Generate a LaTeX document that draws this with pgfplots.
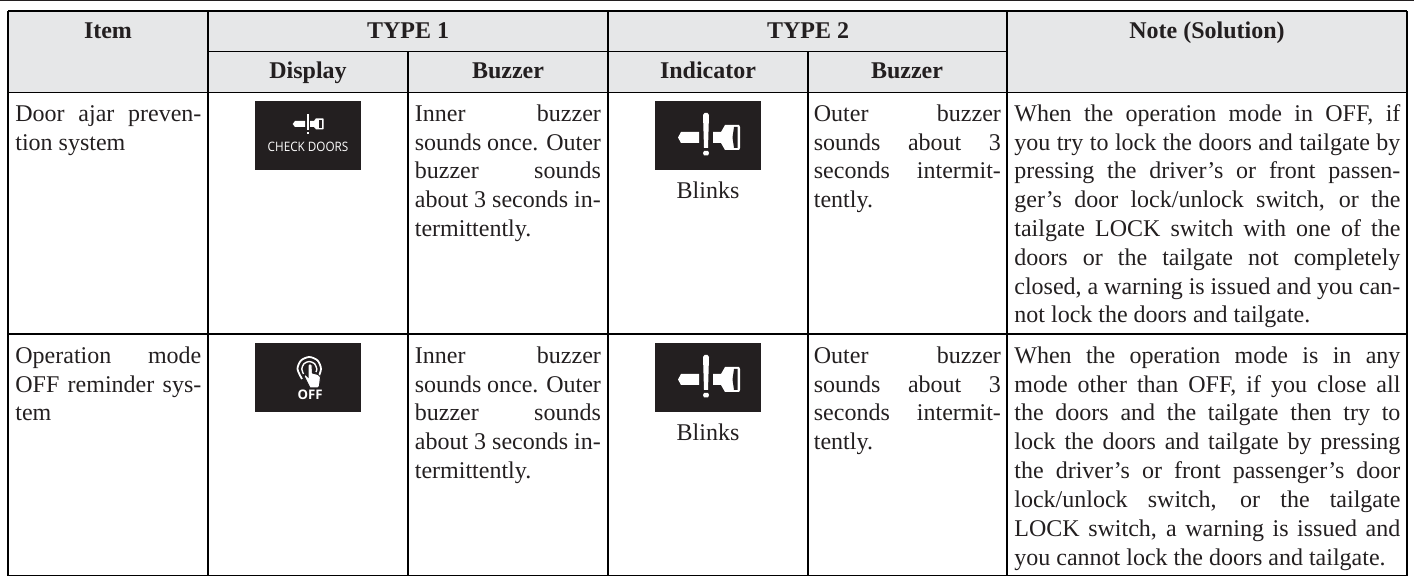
\documentclass[border=0pt]{standalone}
\usepackage{pgfplots}
\pgfplotsset{compat=1.18}
\usepackage{fontspec}
\setmainfont{Liberation Serif}
\newfontfamily\iconfont{Open Sans}
\definecolor{hdr}{HTML}{E6E7E8}
\definecolor{grid}{HTML}{474747}
\definecolor{ink}{HTML}{231F20}
% one px = 0.5pt
\newcommand{\J}[4]{\node[anchor=base west,inner sep=0pt,yshift=-0.75pt,text=ink,font=\fontsize{12pt}{14pt}\selectfont] at (axis cs:#1,#2) {\makebox[#3pt][s]{#4}};}
\newcommand{\Ln}[3]{\node[anchor=base west,inner sep=0pt,yshift=-0.75pt,text=ink,font=\fontsize{12pt}{14pt}\selectfont] at (axis cs:#1,#2) {#3};}
\newcommand{\C}[3]{\node[anchor=base,inner sep=0pt,yshift=-0.75pt,text=ink,font=\fontsize{12pt}{14pt}\selectfont] at (axis cs:#1,#2) {#3};}
\newcommand{\B}[3]{\node[anchor=base,inner sep=0pt,yshift=-0.5pt,text=ink,font=\fontsize{12pt}{14pt}\selectfont\bfseries] at (axis cs:#1,#2) {#3};}
\begin{document}
\begin{tikzpicture}
\path[use as bounding box] (0,0) rectangle (707pt,288pt);
\begin{axis}[at={(0,0)},anchor=south west,scale only axis,width=707pt,height=288pt,
  xmin=0,xmax=1414,ymin=0,ymax=576,y dir=reverse,hide axis,clip=true]
% header fill
\addplot[fill=hdr,draw=none] coordinates {(8,11) (1407,11) (1407,92) (8,92)} -- cycle;
% top rule
\addplot[ink,line width=1pt] coordinates {(0,0.5) (1414,0.5)};
% grid
\addplot[grid,line width=0.9pt] coordinates {(8,11) (1407,11)};
\addplot[grid,line width=0.8pt] coordinates {(208,51.5) (1007,51.5)};
\addplot[grid,line width=0.8pt] coordinates {(8,92.5) (1407,92.5)};
\addplot[grid,line width=1pt] coordinates {(8,334.5) (1407,334.5)};
\addplot[grid,line width=0.8pt] coordinates {(8,575.5) (1407,575.5)};
\addplot[grid,line width=0.7pt] coordinates {(8,11) (8,576)};
\addplot[grid,line width=0.7pt] coordinates {(208,11) (208,576)};
\addplot[grid,line width=0.7pt] coordinates {(408,52) (408,576)};
\addplot[grid,line width=0.7pt] coordinates {(608,11) (608,576)};
\addplot[grid,line width=0.7pt] coordinates {(808,52) (808,576)};
\addplot[grid,line width=0.7pt] coordinates {(1007,11) (1007,576)};
\addplot[grid,line width=0.9pt] coordinates {(1407,11) (1407,576)};
% icon boxes
\addplot[fill=ink,draw=none] coordinates {(255,101) (361,101) (361,170) (255,170)} -- cycle;
\addplot[fill=ink,draw=none] coordinates {(655,101) (761,101) (761,170) (655,170)} -- cycle;
\addplot[fill=ink,draw=none] coordinates {(255,343) (361,343) (361,412) (255,412)} -- cycle;
\addplot[fill=ink,draw=none] coordinates {(655,343) (761,343) (761,412) (655,412)} -- cycle;
% large door icon, row 1
\addplot[fill=white,draw=none] coordinates {(678,137.5) (681,132) (699,132) (699,143) (681,143)} -- cycle;
\addplot[fill=white,draw=none] coordinates {(703,115) (704.5,113) (707.5,113) (709,115) (708,148) (704,148)} -- cycle;
\addplot[fill=white,draw=none] coordinates {(704,151) (708,151) (709,153) (708,155.5) (704,155.5) (703,153)} -- cycle;
\addplot[fill=white,draw=none] coordinates {(713,132) (721,132) (725,125) (739,125) (740,127) (740,148) (739,150) (725,150) (721,143) (713,143)} -- cycle;
\addplot[fill=ink,draw=none] coordinates {(734,127) (737.7,127) (737.7,148) (734,148) (732.5,137.5)} -- cycle;
% large door icon, row 2
\addplot[fill=white,draw=none] coordinates {(678,379.5) (681,374) (699,374) (699,385) (681,385)} -- cycle;
\addplot[fill=white,draw=none] coordinates {(703,357) (704.5,355) (707.5,355) (709,357) (708,390) (704,390)} -- cycle;
\addplot[fill=white,draw=none] coordinates {(704,393) (708,393) (709,395) (708,397.5) (704,397.5) (703,395)} -- cycle;
\addplot[fill=white,draw=none] coordinates {(713,374) (721,374) (725,367) (739,367) (740,369) (740,390) (739,392) (725,392) (721,385) (713,385)} -- cycle;
\addplot[fill=ink,draw=none] coordinates {(734,369) (737.7,369) (737.7,390) (734,390) (732.5,379.5)} -- cycle;
% small door icon
\addplot[fill=white,draw=none] coordinates {(292.7,124) (295,121) (305,121) (305,127) (295,127)} -- cycle;
\addplot[fill=white,draw=none] coordinates {(307,114.5) (308.7,114.5) (308.7,130) (307,130)} -- cycle;
\addplot[fill=white,draw=none] coordinates {(307,132) (308.9,132) (308.9,134) (307,134)} -- cycle;
\addplot[fill=white,draw=none] coordinates {(310,121) (314,121) (316,118.3) (323,118.3) (323.7,119) (323.7,128.7) (323,129.3) (316,129.3) (314,127) (310,127)} -- cycle;
\addplot[fill=ink,draw=none] coordinates {(319,120) (322,120) (322,127.7) (319,127.7)} -- cycle;
% OFF icon: rings and hand
\addplot[white,line width=0.9pt,smooth] coordinates {(302,379) (297.5,369) (301,360.5) (309.3,357) (317.6,360.5) (321,369) (318,378)};
\addplot[white,line width=0.7pt,smooth] coordinates {(303.5,374) (301.8,369) (304,363.7) (309.3,361.5) (314.6,363.7) (316.8,369) (316,372)};
\addplot[fill=white,draw=ink,line width=0.5pt] coordinates {(308,365) (310,363.5) (312,365) (312.5,373) (318,374.5) (320.5,377) (319.5,386) (318,388) (310,388) (307,382) (304,376) (305.5,374.5) (308,377)} -- cycle;
% header text
\B{108}{37.5}{Item}
\B{408}{37.5}{TYPE 1}
\B{808}{37.5}{TYPE 2}
\B{1207}{37.5}{Note (Solution)}
\B{308}{78}{Display}
\B{508}{78}{Buzzer}
\B{708}{78}{Indicator}
\B{907}{78}{Buzzer}
% icon captions
\node[anchor=base,inner sep=0pt,text=white] at (axis cs:308,151.5) {\scalebox{0.9}[1]{\iconfont\fontsize{6.5pt}{8pt}\selectfont CHECK DOORS}};
\node[anchor=base,inner sep=0pt,text=white] at (axis cs:310,399.5) {\iconfont\bfseries\fontsize{6.6pt}{8pt}\selectfont OFF};
\C{708}{197}{Blinks}
\C{708}{439}{Blinks}
% row 1
\J{15}{120}{93}{Door ajar preven-}
\Ln{15}{149}{tion system}
\J{414.5}{120}{93}{Inner buzzer}
\J{414.5}{149}{93}{sounds once. Outer}
\J{414.5}{177}{93}{buzzer sounds}
\J{414.5}{206}{93}{about 3 seconds in-}
\Ln{414.5}{235}{termittently.}
\J{813.5}{120}{93.5}{Outer buzzer}
\J{813.5}{149}{93.5}{sounds about 3}
\J{813.5}{177}{93.5}{seconds intermit-}
\Ln{813.5}{206}{tently.}
\J{1014}{120}{193}{When the operation mode in OFF, if}
\J{1014}{149}{193}{you try to lock the doors and tailgate by}
\J{1014}{177}{193}{pressing the driver’s or front passen-}
\J{1014}{206}{193}{ger’s door lock/unlock switch, or the}
\J{1014}{235}{193}{tailgate LOCK switch with one of the}
\J{1014}{264}{193}{doors or the tailgate not completely}
\J{1014}{293}{193}{closed, a warning is issued and you can-}
\Ln{1014}{321}{not lock the doors and tailgate.}
% row 2
\J{15}{362}{93}{Operation mode}
\J{15}{391}{93}{OFF reminder sys-}
\Ln{15}{419}{tem}
\J{414.5}{362}{93}{Inner buzzer}
\J{414.5}{391}{93}{sounds once. Outer}
\J{414.5}{419}{93}{buzzer sounds}
\J{414.5}{448}{93}{about 3 seconds in-}
\Ln{414.5}{477}{termittently.}
\J{813.5}{362}{93.5}{Outer buzzer}
\J{813.5}{391}{93.5}{sounds about 3}
\J{813.5}{419}{93.5}{seconds intermit-}
\Ln{813.5}{448}{tently.}
\J{1014}{362}{193}{When the operation mode is in any}
\J{1014}{391}{193}{mode other than OFF, if you close all}
\J{1014}{419}{193}{the doors and the tailgate then try to}
\J{1014}{448}{193}{lock the doors and tailgate by pressing}
\J{1014}{477}{193}{the driver’s or front passenger’s door}
\J{1014}{506}{193}{lock/unlock switch, or the tailgate}
\J{1014}{535}{193}{LOCK switch, a warning is issued and}
\Ln{1014}{564}{you cannot lock the doors and tailgate.}
\end{axis}
\end{tikzpicture}
\end{document}
